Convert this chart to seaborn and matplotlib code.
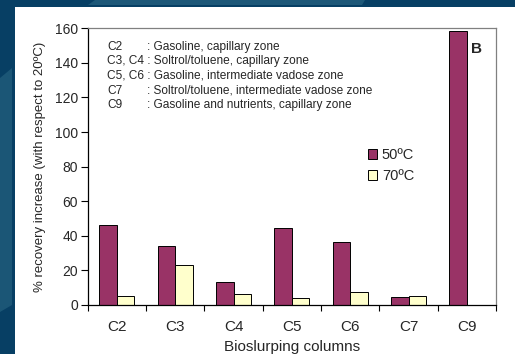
import numpy as np
import pandas as pd
import matplotlib
matplotlib.use("Agg")
import matplotlib.pyplot as plt
from matplotlib.patches import Rectangle, Polygon
import seaborn as sns

# Recovery increase per bioslurping column, relative to 20 ºC
columns = ["C2", "C3", "C4", "C5", "C6", "C7", "C9"]
increase_50 = [46, 34, 13.5, 44.5, 36.5, 4.6, 158.5]
increase_70 = [5.2, 23, 6.2, 4, 7.5, 5.4, np.nan]
temps = ["50ºC", "70ºC"]

notes = [
    ("C2", ": Gasoline, capillary zone"),
    ("C3, C4 : Soltrol/toluene, capillary zone", None),
    ("C5, C6 : Gasoline, intermediate vadose zone", None),
    ("C7", ": Soltrol/toluene, intermediate vadose zone"),
    ("C9", ": Gasoline and nutrients, capillary zone"),
]

df = pd.DataFrame({
    "column": columns * 2,
    "temp": [temps[0]] * len(columns) + [temps[1]] * len(columns),
    "value": increase_50 + increase_70,
})

sns.set_style("white")
plt.rcParams["font.family"] = ["Liberation Sans", "DejaVu Sans"]

W, H = 515, 354
fig = plt.figure(figsize=(W / 100, H / 100), dpi=100, facecolor="#073f64")


def px_poly(points, color):
    """Polygon given in pixel coordinates (origin top-left)."""
    pts = [(x / W, 1 - y / H) for x, y in points]
    fig.patches.append(Polygon(pts, closed=True, transform=fig.transFigure,
                               facecolor=color, edgecolor="none", zorder=-20))


# lighter sheen on the slide frame
px_poly([(88, 5), (95, 0), (365, 0), (362, 5)], "#1d5878")
px_poly([(0, 78), (12, 68), (12, 305), (0, 312)], "#1b5676")

# white slide panel
fig.patches.append(Rectangle((15 / W, 0), 1 - 15 / W, (H - 7) / H,
                             transform=fig.transFigure, facecolor="white",
                             edgecolor="none", zorder=-10))

ax = fig.add_axes([87.7 / W, (H - 305) / H, (496 - 87.7) / W, (305 - 28.3) / H])
ax.set_facecolor("white")

sns.barplot(data=df, x="column", y="value", hue="temp", order=columns,
            hue_order=temps, palette=["#993366", "#FFFFCC"], width=0.6,
            gap=0, edgecolor="black", linewidth=0.7, saturation=1, ax=ax)

ax.set_ylim(0, 160)
ax.set_xlim(-0.5, len(columns) - 0.5)
ax.set_yticks(range(0, 161, 20))
ax.tick_params(axis="y", labelsize=10, length=5, width=0.8, color="black",
               direction="out", pad=2, left=True)
ax.tick_params(axis="x", which="major", labelsize=11, length=0, pad=11)
ax.set_xticks(np.arange(-0.5, len(columns), 1.0), minor=True)
ax.tick_params(axis="x", which="minor", length=4, width=0.8, color="black",
               direction="out", bottom=True)

for side in ["top", "right"]:
    ax.spines[side].set_color("#808080")
    ax.spines[side].set_linewidth(0.9)
for side in ["left", "bottom"]:
    ax.spines[side].set_color("black")
    ax.spines[side].set_linewidth(0.9)

ax.set_xlabel("Bioslurping columns", fontsize=11, labelpad=4)
ax.set_ylabel("% recovery increase (with respect to 20ºC)", fontsize=9.5,
              labelpad=6)

handles, labels = ax.get_legend_handles_labels()
ax.legend(handles, labels, frameon=False, fontsize=10.5, loc="upper left",
          bbox_to_anchor=(0.672, 0.587), handlelength=0.65, handleheight=0.65,
          handletextpad=0.3, labelspacing=0.45, borderaxespad=0)

# column descriptions
y0 = (305 - 46.7) / 276.7
for i, (lab, desc) in enumerate(notes):
    y = y0 - i * 14.6 / 276.7
    ax.text(19.3 / 408.3, y, lab, transform=ax.transAxes, fontsize=8.6,
            va="center", ha="left")
    if desc:
        ax.text((146.7 - 87.7) / 408.3, y, desc, transform=ax.transAxes,
                fontsize=8.6, va="center", ha="left")

ax.text(0.953, (305 - 49) / 276.7, "B", transform=ax.transAxes, fontsize=11,
        fontweight="bold", ha="center", va="center")

fig.savefig("out.png", dpi=100, facecolor=fig.get_facecolor())
